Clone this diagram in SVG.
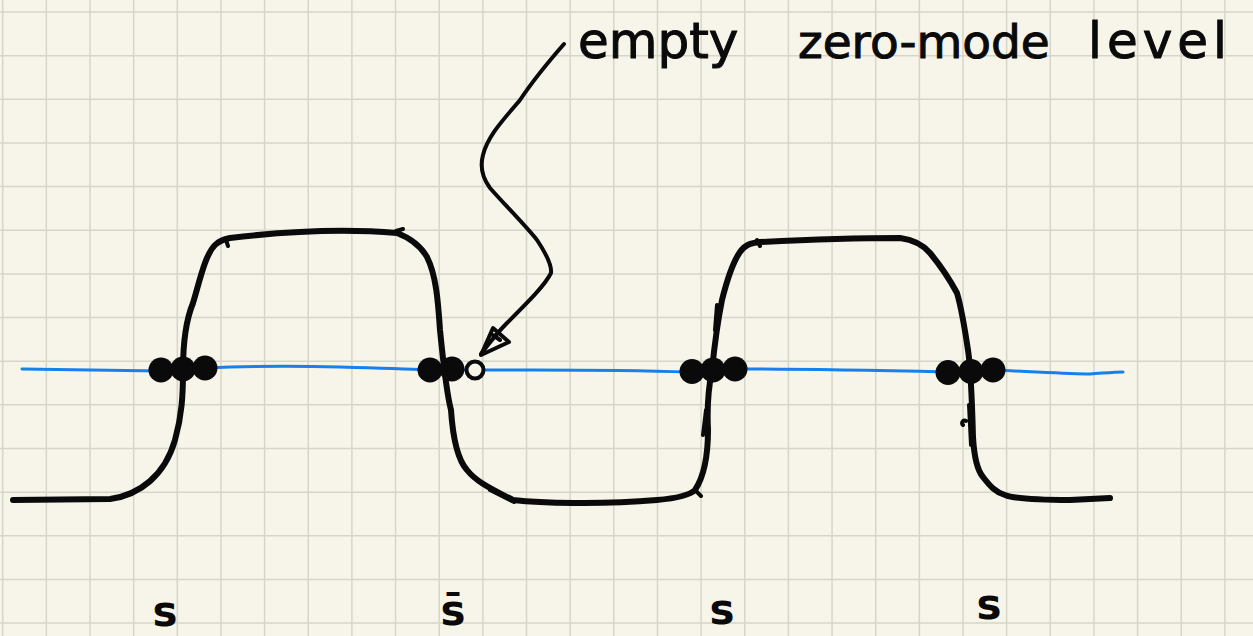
<svg xmlns="http://www.w3.org/2000/svg" width="1253" height="636" viewBox="0 0 1253 636">
<style>
.grid{stroke:#d6d6c8;stroke-width:1.5;fill:none}
.ink{stroke:#0a0a0a;fill:none;stroke-linecap:round;stroke-linejoin:round}
.main{stroke-width:6}
.thin{stroke-width:4}
.blue{stroke:#1780ec;stroke-width:3;fill:none;stroke-linecap:round}
.dot{fill:#0a0a0a}
.hand{font-family:"DejaVu Sans","Liberation Sans",sans-serif;fill:#0a0a0a;stroke:#0a0a0a;stroke-width:1}
.lab{font-family:"DejaVu Sans","Liberation Sans",sans-serif;font-size:42px;font-weight:bold;fill:#0a0a0a;text-anchor:middle}
</style>
<rect width="1253" height="636" fill="#f7f5ea"/>
<path class="grid" d="M2.7,0V636M46.35,0V636M90,0V636M133.65,0V636M177.3,0V636M220.95,0V636M264.6,0V636M308.25,0V636M351.9,0V636M395.55,0V636M439.2,0V636M482.85,0V636M526.5,0V636M570.15,0V636M613.8,0V636M657.45,0V636M701.1,0V636M744.75,0V636M788.4,0V636M832.05,0V636M875.7,0V636M919.35,0V636M963,0V636M1006.65,0V636M1050.3,0V636M1093.95,0V636M1137.6,0V636M1181.25,0V636M1224.9,0V636M0,12H1253M0,55.65H1253M0,99.3H1253M0,142.95H1253M0,186.6H1253M0,230.25H1253M0,273.9H1253M0,317.55H1253M0,361.2H1253M0,404.85H1253M0,448.5H1253M0,492.15H1253M0,535.8H1253M0,579.45H1253M0,623.1H1253"/>
<g id="connectors">
<path id="zero-mode-level" class="blue" d="M22,369 C80,370 130,371 160,371 L205,368 C250,366 300,366 340,367 C380,368 410,369 430,370 L475,370 C520,370 600,369 690,372 L735,369 C800,369 900,371 948,372 L993,370 C1040,372 1070,374 1090,374 C1105,373 1115,372 1123,372"/>
<path id="kink-curve" class="ink main" d="M13,500 L110,499 C140,495 165,475 175,440 C182,415 183,395 183,370 C183,340 186,320 193,303 C200,280 205,255 215,245 C220,240 225,239 230,238 C280,232 340,228 397,233 C410,238 420,245 427,257 C436,275 438,300 440,330 C443,360 447,395 451,410 C453,440 458,460 467,470 C475,480 485,486 513,500 C540,503 600,505 657,500 C680,498 690,495 695,490 C705,475 708,455 708,430 C707,410 708,390 712,370 C715,340 718,320 722,300 C727,280 733,262 740,252 C745,245 750,243 760,242 C800,240 860,238 900,238 C915,240 925,247 930,253 C940,265 950,280 957,293 C962,310 965,330 968,350 C971,370 972,400 973,437 C974,455 977,470 983,477 C990,486 995,492 1005,495 C1015,499 1040,500 1070,500 L1110,498"/>
<path class="ink thin" d="M226,240 l2,6 M396,231 l7,-2 M757,240 l3,6 M490,490 l24,12 M697,492 l4,4 M717,305 l-2,25 M706,410 l-3,25 M969,405 l2,40 M966,421 c-3,-2 -5,2 -3,4"/>
<path id="arrow" class="ink thin" d="M564,44 C550,60 530,85 520,100 C505,118 488,135 483,155 C479,170 484,180 490,188 C505,205 525,225 537,240 C545,252 552,265 551,273 C545,285 530,300 507,323 C495,335 488,345 481,354"/>
<path class="ink thin" d="M493,328 L481,355 L509,342 Z M493,335 L500,340"/>
</g>
<g id="defect-s1">
<circle class="dot" cx="161" cy="370" r="12.5"/>
<circle class="dot" cx="183" cy="369" r="12.5"/>
<circle class="dot" cx="205" cy="368" r="12.5"/>
</g>
<g id="defect-sbar">
<circle class="dot" cx="430" cy="370" r="12.5"/>
<circle class="dot" cx="452" cy="369" r="12.5"/>
<circle cx="475" cy="370" r="8.5" fill="#f7f5ea" stroke="#0a0a0a" stroke-width="4"/>
</g>
<g id="defect-s2">
<circle class="dot" cx="692" cy="371.5" r="12.5"/>
<circle class="dot" cx="713" cy="370" r="12.5"/>
<circle class="dot" cx="735" cy="369" r="12.5"/>
</g>
<g id="defect-s3">
<circle class="dot" cx="948" cy="372.5" r="12.5"/>
<circle class="dot" cx="971" cy="371.5" r="12.5"/>
<circle class="dot" cx="993" cy="370" r="12.5"/>
</g>
<g id="annotation">
<text class="hand" font-size="50" y="58"><tspan x="578">empty</tspan><tspan x="798" font-size="47">zero-mode</tspan><tspan x="1088" letter-spacing="5">level</tspan></text>
</g>
<g id="labels">
<text class="lab" x="165" y="626">s</text>
<text class="lab" x="453" y="625">s̄</text>
<text class="lab" x="722" y="624">s</text>
<text class="lab" x="989" y="619">s</text>
</g>
</svg>
